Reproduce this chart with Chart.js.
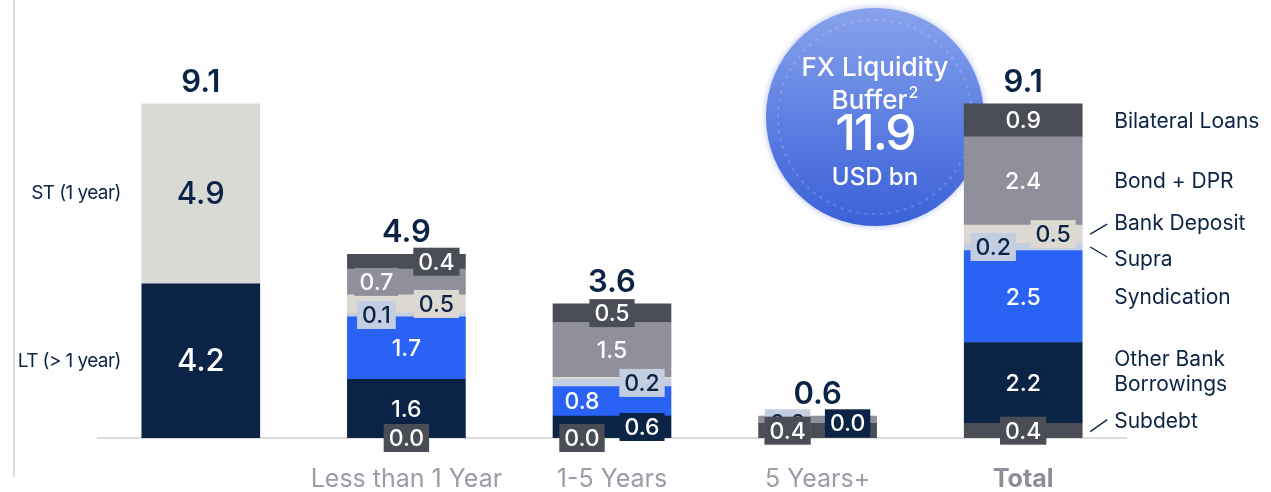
<!DOCTYPE html>
<html><head><meta charset="utf-8">
<script src="https://cdn.jsdelivr.net/npm/chart.js@4"></script>
<style>html,body{margin:0;padding:0;background:#fff;overflow:hidden}#wrap{width:1271px;height:492px;position:relative}</style>
</head><body><div id="wrap"><canvas id="c" width="1271" height="492"></canvas></div>
<script>
// ---- data ----
const categories = ['', 'Less than 1 Year', '1-5 Years', '5 Years+', 'Total'];
const longTerm = [4.2, null, null, null, null];
const shortTerm = [4.9, null, null, null, null];
const subdebt = [null, 0.0, 0.0, 0.4, 0.4];
const otherBankBorrowings = [null, 1.6, 0.6, 0.0, 2.2];
const syndication = [null, 1.7, 0.8, null, 2.5];
const supra = [null, 0.1, 0.2, 0.0, 0.2];
const bankDeposit = [null, 0.5, 0.05, null, 0.5];
const bondDpr = [null, 0.7, 1.5, 0.2, 2.4];
const bilateralLoans = [null, 0.4, 0.5, null, 0.9];
const totals = [9.1, 4.9, 3.6, 0.6, 9.1];
const bufferValue = 11.9;

// ---- style ----
const NAVY = '#0b2345', DGRAY = '#4a4d56', FONT = 'Inter, "Open Sans", sans-serif';
function ds(label, data, color, textColor, pos) {
  return {label, data, backgroundColor: color, borderWidth: 0, barThickness: 118, stack: 's',
          _text: textColor, _pos: pos};
}
const datasets = [
  ds('LT (> 1 year)', longTerm, NAVY, '#ffffff', ['B', '-', '-', '-', '-']),
  ds('ST (1 year)', shortTerm, '#d9d9d6', NAVY, ['B', '-', '-', '-', '-']),
  ds('Subdebt', subdebt, DGRAY, '#ffffff', ['-', 'c', 'l', 'l', 'c']),
  ds('Other Bank Borrowings', otherBankBorrowings, NAVY, '#ffffff', ['-', 'c', 'r', 'r', 'c']),
  ds('Syndication', syndication, '#2a62f5', '#ffffff', ['-', 'c', 'l', '-', 'c']),
  ds('Supra', supra, '#c3cee1', NAVY, ['-', 'l', 'r', 'l', 'l']),
  ds('Bank Deposit', bankDeposit, '#dcd9d3', NAVY, ['-', 'r', '-', '-', 'r']),
  ds('Bond + DPR', bondDpr, '#8f909b', '#ffffff', ['-', 'l', 'c', '-', 'c']),
  ds('Bilateral Loans', bilateralLoans, DGRAY, '#ffffff', ['-', 'r', 'c', '-', 'c'])
];

const bubblePlugin = {
  id: 'bubble',
  beforeDatasetsDraw(chart) {
    const ctx = chart.ctx;
    // left frame line
    ctx.save();
    ctx.strokeStyle = '#dcdcdc'; ctx.lineWidth = 2;
    ctx.beginPath(); ctx.moveTo(14, 0); ctx.lineTo(14, 477); ctx.stroke();
    // bubble
    const cx = 875, cy = 117, r = 109;
    ctx.shadowColor = 'rgba(70,100,210,0.45)'; ctx.shadowBlur = 6;
    const g = ctx.createLinearGradient(0, cy - r, 0, cy + r);
    g.addColorStop(0, '#88a2ec'); g.addColorStop(0.5, '#5e80e2'); g.addColorStop(1, '#3a61d8');
    ctx.fillStyle = g;
    ctx.beginPath(); ctx.arc(cx, cy, r, 0, Math.PI * 2); ctx.fill();
    ctx.shadowBlur = 0;
    ctx.strokeStyle = 'rgba(255,255,255,0.18)'; ctx.lineWidth = 2; ctx.setLineDash([3, 5]);
    ctx.beginPath(); ctx.arc(cx, cy, r - 12, 0, Math.PI * 2); ctx.stroke();
    ctx.setLineDash([]);
    ctx.fillStyle = '#ffffff'; ctx.textAlign = 'center'; ctx.textBaseline = 'middle';
    ctx.font = '500 26px ' + FONT;
    ctx.fillText('FX Liquidity', cx, 68);
    const w1 = ctx.measureText('Buffer').width;
    ctx.font = '500 16px ' + FONT;
    const w2 = ctx.measureText('2').width;
    const sx = cx - (w1 + w2 + 1) / 2;
    ctx.textAlign = 'left';
    ctx.font = '500 26px ' + FONT; ctx.fillText('Buffer', sx, 101);
    ctx.font = '500 16px ' + FONT; ctx.fillText('2', sx + w1 + 1, 93);
    ctx.textAlign = 'center';
    ctx.font = '500 50px ' + FONT;
    ctx.letterSpacing = '-2px';
    ctx.fillText(bufferValue.toFixed(1), cx, 135);
    ctx.letterSpacing = '0px';
    ctx.font = '500 24px ' + FONT;
    ctx.fillText('USD bn', cx, 178);
    ctx.restore();
  }
};

const labelPlugin = {
  id: 'labels',
  afterDatasetsDraw(chart) {
    const ctx = chart.ctx, y = chart.scales.y;
    ctx.save();
    ctx.textAlign = 'center'; ctx.textBaseline = 'middle';
    for (let d = chart.data.datasets.length - 1; d >= 0; d--) {
      const set = chart.data.datasets[d];
      const meta = chart.getDatasetMeta(d);
      set.data.forEach((v, i) => {
        const p = set._pos[i];
        if (v === null || p === '-') return;
        const el = meta.data[i];
        const yc = (el.y + el.base) / 2;
        const xc = el.x + (p === 'l' ? -30 : p === 'r' ? 30 : 0);
        const txt = v.toFixed(1);
        if (p === 'B') {
          ctx.font = '500 31px ' + FONT;
          ctx.fillStyle = set._text;
          ctx.fillText(txt, xc, yc + 1);
          return;
        }
        ctx.font = '500 23px ' + FONT;
        const w = ctx.measureText(txt).width + 10;
        ctx.fillStyle = set.backgroundColor;
        ctx.fillRect(xc - w / 2, yc - 14, w, 28);
        ctx.fillStyle = set._text;
        ctx.fillText(txt, xc, yc + 1);
      });
    }
    // totals above stacks
    ctx.font = '600 31px ' + FONT; ctx.fillStyle = NAVY; ctx.textBaseline = 'alphabetic';
    const xs = chart.scales.x;
    totals.forEach((t, i) => {
      let sum = 0;
      chart.data.datasets.forEach(s => { if (s.data[i] !== null) sum += s.data[i]; });
      ctx.fillText(t.toFixed(1), xs.getPixelForValue(i), y.getPixelForValue(sum) - 12);
    });
    // ST / LT side labels for first bar
    ctx.font = '400 19px ' + FONT; ctx.textAlign = 'right'; ctx.textBaseline = 'middle';
    ctx.letterSpacing = '-0.6px';
    [0, 1].forEach(d => {
      const el = chart.getDatasetMeta(d).data[0];
      ctx.fillText(chart.data.datasets[d].label, el.x - 80, (el.y + el.base) / 2);
    });
    ctx.letterSpacing = '0px';
    // right legend beside Total bar
    const idx = 4;
    ctx.textAlign = 'left'; ctx.font = '400 21px ' + FONT;
    ctx.strokeStyle = NAVY; ctx.lineWidth = 1.3;
    const segMid = d => { const el = chart.getDatasetMeta(d).data[idx]; return {x: el.x + 59, y: (el.y + el.base) / 2}; };
    const tx = segMid(8).x + 32;
    const line = (x1, y1, x2, y2) => { ctx.beginPath(); ctx.moveTo(x1, y1); ctx.lineTo(x2, y2); ctx.stroke(); };
    let m;
    m = segMid(8); ctx.fillText('Bilateral Loans', tx, m.y + 1);
    m = segMid(7); ctx.fillText('Bond + DPR', tx, m.y + 1);
    m = segMid(6); ctx.fillText('Bank Deposit', tx, m.y - 10); line(m.x + 8, m.y, m.x + 25, m.y - 10);
    m = segMid(5); ctx.fillText('Supra', tx, m.y + 13); line(m.x + 8, m.y, m.x + 25, m.y + 10);
    m = segMid(4); ctx.fillText('Syndication', tx, m.y + 1);
    m = segMid(3); ctx.fillText('Other Bank', tx, m.y - 23); ctx.fillText('Borrowings', tx, m.y + 2);
    m = segMid(2); ctx.fillText('Subdebt', tx, m.y - 9); line(m.x + 8, m.y + 1, m.x + 25, m.y - 11);
    ctx.restore();
  }
};

new Chart(document.getElementById('c'), {
  type: 'bar',
  data: {labels: categories, datasets},
  options: {
    responsive: false, animation: false, devicePixelRatio: 1,
    layout: {padding: {left: 98, right: 145, top: 34, bottom: 0}},
    plugins: {legend: {display: false}, tooltip: {enabled: false}},
    scales: {
      x: {
        stacked: true,
        grid: {display: false, drawTicks: false},
        border: {display: true, color: '#dcdcdc', width: 2},
        ticks: {
          padding: 29,
          color: (c) => c.index === 4 ? '#8c8e97' : '#9b9da6',
          font: (c) => ({family: FONT, size: 25, weight: c.index === 4 ? '700' : '400', lineHeight: 1})
        },
        afterFit(s) { s.height = 54; }
      },
      y: {stacked: true, display: false, min: 0, max: 11}
    }
  },
  plugins: [bubblePlugin, labelPlugin]
});
</script></body></html>
